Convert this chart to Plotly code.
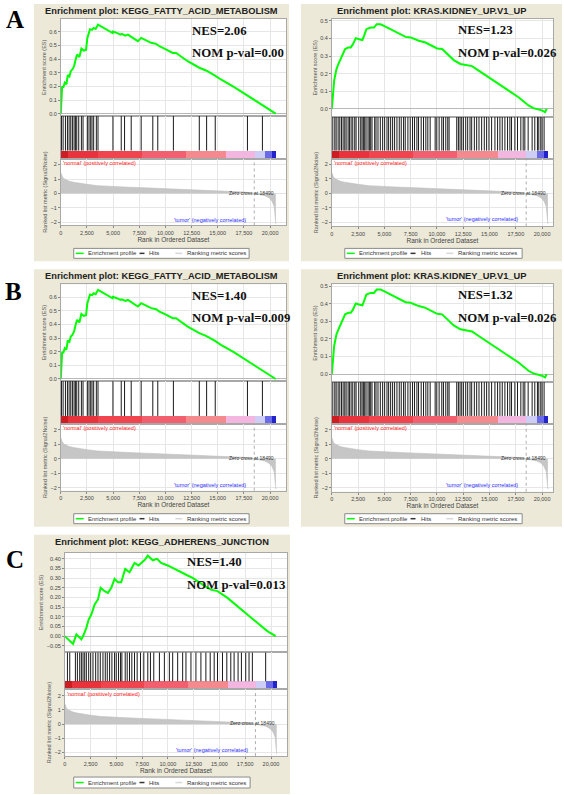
import plotly.graph_objects as go
import numpy as np

W, H = 564, 795

# ---------------- data ----------------
TITLES = [
    "Enrichment plot: KEGG_FATTY_ACID_METABOLISM",
    "Enrichment plot: KRAS.KIDNEY_UP.V1_UP",
    "Enrichment plot: KEGG_FATTY_ACID_METABOLISM",
    "Enrichment plot: KRAS.KIDNEY_UP.V1_UP",
    "Enrichment plot: KEGG_ADHERENS_JUNCTION",
]
NES = ["2.06", "1.23", "1.40", "1.32", "1.40"]
NOM_PVAL = ["0.00", "0.026", "0.009", "0.026", "0.013"]
LETTERS = ["A", "B", "C"]

X_TICKS = [0, 2500, 5000, 7500, 10000, 12500, 15000, 17500, 20000]
RANK_TICKS = [-2, -1, 0, 1, 2]
ES_TICKS_FATTY = [0.0, 0.1, 0.2, 0.3, 0.4, 0.5, 0.6]
ES_TICKS_KRAS = [0.0, 0.1, 0.2, 0.3, 0.4, 0.5]
ES_TICKS_ADH = [-0.05, 0.0, 0.05, 0.10, 0.15, 0.20, 0.25, 0.30, 0.35, 0.40]

FATTY_RANK = [0, 64, 127, 254, 381, 540, 667, 826, 953, 1111, 1270, 1397, 1556, 1778,
              1969, 2191, 2413, 2540, 2667, 2794, 2985, 3143, 3334, 3556, 4950, 4985,
              5350, 5715, 5840, 6160, 6414, 6795, 7366, 7684, 8160, 8636, 9112, 9430,
              9906, 10700, 11017, 12129, 13240, 13875, 14669, 15304, 16574, 17844,
              19114, 20542]
FATTY_ES = [0.0, 0.166, 0.195, 0.195, 0.227, 0.215, 0.283, 0.273, 0.312, 0.324, 0.349,
            0.39, 0.434, 0.415, 0.478, 0.463, 0.468, 0.556, 0.6, 0.62, 0.615, 0.629,
            0.622, 0.654, 0.592, 0.603, 0.593, 0.58, 0.585, 0.573, 0.58, 0.561, 0.532,
            0.556, 0.537, 0.52, 0.512, 0.495, 0.478, 0.446, 0.446, 0.385, 0.337, 0.317,
            0.283, 0.251, 0.195, 0.134, 0.068, 0.0]
FATTY_HITS = [63, 222, 444, 635, 794, 952, 1111, 1270, 1397, 1524, 1714, 1968, 2127,
              2540, 2698, 2857, 2984, 3143, 3397, 3556, 4984, 5778, 6095, 6730, 7683,
              8794, 9270, 10762, 13238, 13937, 14762, 17841, 19270]

KRAS_RANK = [0, 63, 126, 221, 316, 442, 632, 853, 1011, 1264, 1580, 1801, 2022, 2275,
             2591, 2907, 3065, 3286, 3697, 4013, 4266, 4645, 4961, 5751, 6383, 7015,
             7489, 8279, 8911, 9543, 10017, 10491, 10965, 11597, 12229, 12861, 13335,
             13967, 14915, 15863, 16811, 17759, 18707, 19181, 19971, 20287, 20445]
KRAS_ES = [0.0, 0.066, 0.113, 0.16, 0.189, 0.226, 0.255, 0.283, 0.311, 0.34, 0.349,
           0.349, 0.368, 0.402, 0.396, 0.391, 0.415, 0.453, 0.462, 0.462, 0.481, 0.481,
           0.472, 0.447, 0.425, 0.409, 0.406, 0.387, 0.377, 0.358, 0.343, 0.34, 0.311,
           0.277, 0.255, 0.249, 0.243, 0.217, 0.179, 0.142, 0.104, 0.066, 0.019, 0.004,
           -0.009, -0.019, 0.0]
KRAS_HITS = [95, 284, 411, 600, 758, 916, 1074, 1232, 1359, 1548, 1675, 1833, 1991,
             2180, 2307, 2560, 2749, 2876, 3002, 3128, 3255, 3444, 3571, 3697, 3824,
             4076, 4203, 4392, 4614, 4835, 5024, 5246, 5404, 5593, 5783, 5972, 6194,
             6415, 6604, 6826, 6984, 7236, 7458, 7679, 7868, 8090, 8248, 8500, 8722,
             8943, 9132, 9354, 9828, 9986, 10207, 10460, 10618, 10839, 11028, 11155,
             11882, 12040, 12198, 12356, 12514, 12735, 12924, 13146, 13304, 13556,
             13778, 14000, 14252, 14504, 14726, 14947, 15200, 15516, 15768, 15990,
             16211, 16464, 16716, 16938, 17096, 17412, 17664, 17980, 18202, 18360,
             18676, 19055, 19308, 19560, 19687, 19876, 20003, 20192]

ADH_RANK = [0, 483, 805, 1127, 1610, 1803, 2093, 2318, 2576, 2898, 3220, 3478, 3864,
            4186, 4508, 4830, 5152, 5474, 5860, 6279, 6762, 7148, 7567, 7792, 8050,
            8533, 8952, 9338, 9982, 10626, 11270, 11914, 12397, 12880, 13524, 14168,
            14812, 15778, 16744, 17710, 18676, 19642, 20447]
ADH_ES = [0.0, -0.026, -0.04, 0.009, -0.017, 0.003, 0.043, 0.086, 0.112, 0.164, 0.19,
          0.25, 0.233, 0.224, 0.25, 0.297, 0.279, 0.279, 0.348, 0.331, 0.379, 0.366,
          0.388, 0.397, 0.417, 0.393, 0.4, 0.379, 0.366, 0.348, 0.328, 0.314, 0.302,
          0.284, 0.262, 0.241, 0.233, 0.198, 0.155, 0.112, 0.069, 0.026, 0.0]
ADH_HITS = [258, 483, 1030, 1224, 1449, 1610, 1771, 1932, 2093, 2318, 2512, 2737, 2995,
            3220, 3445, 3703, 3928, 4122, 4347, 4572, 4830, 4991, 5216, 5410, 5538,
            5860, 6054, 6279, 6504, 6762, 7020, 7342, 7664, 8050, 8308, 8630, 9177,
            9660, 10143, 10465, 10948, 11431, 11753, 12236, 12719, 13202, 13685, 14104,
            14490, 14812, 15295, 15714, 16100, 16422, 16808, 17130, 17549, 17871, 18193,
            19481]

METRIC_RANK = [0, 50, 150, 300, 500, 800, 1200, 1800, 2500, 3500, 5000, 6500, 8000,
               10000, 12000, 14000, 16000, 17500, 18490, 19000, 19500, 19900, 20200,
               20400, 20500, 20550]
METRIC_VALUE = [1.45, 1.3, 1.15, 1.02, 0.93, 0.85, 0.78, 0.7, 0.63, 0.54, 0.47, 0.43,
                0.39, 0.33, 0.28, 0.22, 0.17, 0.1, 0.0, -0.05, -0.15, -0.3, -0.55,
                -0.9, -1.5, -2.1]
ZERO_CROSS = 18490

BAND_EDGES = [0, 700, 3500, 7700, 11900, 15800, 18500, 19500, 20200, 20520]
BAND_COLORS = ["#cc1e22", "#e9333c", "#f0444e", "#f26070", "#f48a8e", "#f2b6e0",
               "#cdcdf6", "#6a6ae8", "#2323cc"]

SERIES = [
    (FATTY_RANK, FATTY_ES, FATTY_HITS, ES_TICKS_FATTY, ".1f"),
    (KRAS_RANK, KRAS_ES, KRAS_HITS, ES_TICKS_KRAS, ".1f"),
    (FATTY_RANK, FATTY_ES, FATTY_HITS, ES_TICKS_FATTY, ".1f"),
    (KRAS_RANK, KRAS_ES, KRAS_HITS, ES_TICKS_KRAS, ".1f"),
    (ADH_RANK, ADH_ES, ADH_HITS, ES_TICKS_ADH, ".2f"),
]

# ---------------- layout geometry (pixels) ----------------
def geom_left(dy):
    return dict(box=(32, 288, 3 + dy, 261 + dy), px=(59, 285), es=(18 + dy, 115 + dy),
                hit=(115 + dy, 150 + dy, 158 + dy), rank=(158 + dy, 225 + dy),
                xmax=21524, es_range=[-0.015, 0.695], rank_range=[-2.21, 2.41],
                title_y=10 + dy, nes=(189, 30 + dy), nom=(189, 52 + dy),
                legend=(72, 248, 248 + dy, 258 + dy))


def geom_right(dy):
    return dict(box=(300, 562, 3 + dy, 261 + dy), px=(331, 553), es=(18 + dy, 116 + dy),
                hit=(116 + dy, 150 + dy, 158 + dy), rank=(158 + dy, 226 + dy),
                xmax=21043, es_range=[-0.045, 0.511], rank_range=[-2.28, 2.41],
                title_y=10 + dy, nes=(456, 29 + dy), nom=(456, 52 + dy),
                legend=(344, 522, 248 + dy, 258 + dy))


GEOMS = [geom_left(0), geom_right(0), geom_left(266), geom_right(266),
         dict(box=(32, 289, 535, 795), px=(63, 286), es=(553, 653), hit=(653, 682, 690),
              rank=(690, 757), xmax=21550, es_range=[-0.084, 0.4326],
              rank_range=[-2.25, 2.46], title_y=542, nes=(184, 562), nom=(184, 585),
              legend=(72, 249, 778, 789))]
LETTER_POS = [(13, 19), (12, 291), (13, 560)]


def fx(x):
    return x / W


def fy(y):
    return 1 - y / H


def names(n):
    s = "" if n == 1 else str(n)
    return "xaxis" + s, "yaxis" + s, "x" + s, "y" + s


SANS = "Liberation Sans"
SERIF = "Liberation Serif"
GRID = "#e6e6e6"
LINEC = "#a8a8a8"
TICKFONT = dict(family=SANS, size=5.5, color="#444")

fig = go.Figure()
layout = dict(width=W, height=H, margin=dict(l=0, r=0, t=0, b=0),
              paper_bgcolor="white", plot_bgcolor="white", showlegend=False,
              bargap=0)
shapes = []
annotations = []

for p, (g, (rk, es, hits, es_ticks, es_fmt)) in enumerate(zip(GEOMS, SERIES)):
    n_es, n_hit, n_rk = 3 * p + 1, 3 * p + 2, 3 * p + 3
    xa_es, ya_es, xr_es, yr_es = names(n_es)
    xa_h, ya_h, xr_h, yr_h = names(n_hit)
    xa_r, ya_r, xr_r, yr_r = names(n_rk)
    xd = [fx(g["px"][0]), fx(g["px"][1])]
    xmax = g["xmax"]

    # background panel + white plotting region
    bx0, bx1, by0, by1 = g["box"]
    shapes.append(dict(type="rect", xref="paper", yref="paper", x0=fx(bx0), x1=fx(bx1),
                       y0=fy(by1), y1=fy(by0), fillcolor="#ece9d8", line=dict(width=0),
                       layer="below"))
    shapes.append(dict(type="rect", xref="paper", yref="paper", x0=xd[0], x1=xd[1],
                       y0=fy(g["rank"][1]), y1=fy(g["es"][0]), fillcolor="white",
                       line=dict(width=0), layer="below"))

    # enrichment score
    fig.add_trace(go.Scatter(x=rk, y=es, mode="lines", line=dict(color="#00ff00", width=2),
                             xaxis=xr_es, yaxis=yr_es, hoverinfo="skip"))
    layout[xa_es] = dict(domain=xd, range=[0, xmax], anchor=yr_es, showticklabels=False,
                         ticks="", tickvals=X_TICKS, showgrid=True, gridcolor=GRID,
                         gridwidth=0.6, zeroline=False, showline=True, mirror=True,
                         linecolor=LINEC, linewidth=0.8)
    layout[ya_es] = dict(domain=[fy(g["es"][1]), fy(g["es"][0])], range=g["es_range"],
                         anchor=xr_es, tickvals=es_ticks, tickformat=es_fmt, tickfont=TICKFONT,
                         ticks="outside", ticklen=2, tickcolor="#888", showgrid=True,
                         gridcolor=GRID, gridwidth=0.6, zeroline=True, zerolinecolor="#b8b8b8",
                         zerolinewidth=1, showline=True, mirror=True, linecolor=LINEC,
                         linewidth=0.8,
                         title=dict(text="Enrichment score (ES)", standoff=2,
                                    font=dict(family=SANS, size=5.5, color="#555")))

    # hits + colour bar
    htop, hbot, bbot = g["hit"]
    bar_h = (bbot - hbot) / (hbot - htop)
    hx, hy = [], []
    for h in hits:
        hx += [h, h, None]
        hy += [0, 1, None]
    fig.add_trace(go.Scatter(x=hx, y=hy, mode="lines", line=dict(color="#1a1a1a", width=1),
                             xaxis=xr_h, yaxis=yr_h, hoverinfo="skip"))
    edges = np.array(BAND_EDGES, dtype=float)
    centers = (edges[:-1] + edges[1:]) / 2
    widths = np.diff(edges)
    fig.add_trace(go.Bar(x=centers, y=[bar_h] * len(centers), base=-bar_h, width=widths,
                         marker=dict(color=BAND_COLORS, line=dict(width=0)),
                         xaxis=xr_h, yaxis=yr_h, hoverinfo="skip"))
    layout[xa_h] = dict(domain=xd, range=[0, xmax], anchor=yr_h, showticklabels=False,
                        ticks="", tickvals=X_TICKS, showgrid=True, gridcolor=GRID,
                        gridwidth=0.6, zeroline=False, showline=True, mirror=True,
                        linecolor=LINEC, linewidth=0.8)
    layout[ya_h] = dict(domain=[fy(bbot), fy(htop)], range=[-bar_h, 1], anchor=xr_h,
                        showticklabels=False, ticks="", showgrid=False, zeroline=False,
                        showline=True, mirror=True, linecolor=LINEC, linewidth=0.8)

    # ranked list metric
    fig.add_trace(go.Scatter(x=METRIC_RANK, y=METRIC_VALUE, mode="lines", fill="tozeroy",
                             fillcolor="#c6c6c6", line=dict(color="#bdbdbd", width=0.6),
                             xaxis=xr_r, yaxis=yr_r, hoverinfo="skip"))
    layout[xa_r] = dict(domain=xd, range=[0, xmax], anchor=yr_r, tickvals=X_TICKS,
                        tickformat=",", tickfont=TICKFONT, ticks="outside", ticklen=2,
                        tickcolor="#888", showgrid=True, gridcolor=GRID, gridwidth=0.6,
                        zeroline=False, showline=True, mirror=True, linecolor=LINEC,
                        linewidth=0.8,
                        title=dict(text="Rank in Ordered Dataset", standoff=2,
                                   font=dict(family=SANS, size=6.5, color="#444")))
    layout[ya_r] = dict(domain=[fy(g["rank"][1]), fy(g["rank"][0])], range=g["rank_range"],
                        anchor=xr_r, tickvals=RANK_TICKS, tickfont=TICKFONT, ticks="outside",
                        ticklen=2, tickcolor="#888", showgrid=True, gridcolor=GRID,
                        gridwidth=0.6, zeroline=False, showline=True, mirror=True,
                        linecolor=LINEC, linewidth=0.8,
                        title=dict(text="Ranked list metric (Signal2Noise)", standoff=2,
                                   font=dict(family=SANS, size=5.5, color="#555")))
    shapes.append(dict(type="line", xref=xr_r, yref=yr_r + " domain", x0=ZERO_CROSS,
                       x1=ZERO_CROSS, y0=0, y1=1, line=dict(color="#999", width=0.8,
                                                            dash="dot")))
    annotations += [
        dict(xref=xr_r, yref=yr_r, x=0, y=2.12, text="'normal' (positively correlated)",
             showarrow=False, xanchor="left", yanchor="middle",
             font=dict(family=SANS, size=5.5, color="#ff2020")),
        dict(xref=xr_r, yref=yr_r, x=14300, y=-1.8, text="'tumor' (negatively correlated)",
             showarrow=False, xanchor="center", yanchor="middle",
             font=dict(family=SANS, size=5.5, color="#2a2aff")),
        dict(xref=xr_r, yref=yr_r, x=20560, y=0.05, text="Zero cross at %d" % ZERO_CROSS,
             showarrow=False, xanchor="right", yanchor="middle",
             font=dict(family=SANS, size=5, color="#333")),
    ]

    # title and statistics
    annotations += [
        dict(xref="paper", yref="paper", x=fx((bx0 + bx1) / 2), y=fy(g["title_y"]),
             text="<b>%s</b>" % TITLES[p], showarrow=False, xanchor="center",
             yanchor="middle", font=dict(family=SANS, size=9.3, color="#222")),
        dict(xref="paper", yref="paper", x=fx(g["nes"][0]), y=fy(g["nes"][1]),
             text="<b>NES=%s</b>" % NES[p], showarrow=False, xanchor="left",
             yanchor="middle", font=dict(family=SERIF, size=12.8, color="#111")),
        dict(xref="paper", yref="paper", x=fx(g["nom"][0]), y=fy(g["nom"][1]),
             text="<b>NOM p-val=%s</b>" % NOM_PVAL[p], showarrow=False, xanchor="left",
             yanchor="middle", font=dict(family=SERIF, size=12.8, color="#111")),
    ]

    # legend
    L, R, T, B = g["legend"]
    ym = fy((T + B) / 2)
    shapes.append(dict(type="rect", xref="paper", yref="paper", x0=fx(L), x1=fx(R),
                       y0=fy(B), y1=fy(T), fillcolor="white",
                       line=dict(color="#8a8a8a", width=1)))
    for (a, b, col, lab, tx) in [(2, 10, "#00ff00", "Enrichment profile", 12),
                                 (66, 71, "#333333", "Hits", 74),
                                 (102, 109, "#d8d8d8", "Ranking metric scores", 112)]:
        shapes.append(dict(type="line", xref="paper", yref="paper", x0=fx(L + a),
                           x1=fx(L + b), y0=ym, y1=ym, line=dict(color=col, width=1.5)))
        annotations.append(dict(xref="paper", yref="paper", x=fx(L + tx), y=ym, text=lab,
                                showarrow=False, xanchor="left", yanchor="middle",
                                font=dict(family=SANS, size=6, color="#333")))

for letter, (lx, ly) in zip(LETTERS, LETTER_POS):
    annotations.append(dict(xref="paper", yref="paper", x=fx(lx), y=fy(ly),
                            text="<b>%s</b>" % letter, showarrow=False, xanchor="center",
                            yanchor="middle", font=dict(family=SERIF, size=25,
                                                        color="black")))

layout["shapes"] = shapes
layout["annotations"] = annotations
fig.update_layout(**layout)
fig.write_html("out.html",
               config={"displayModeBar": False},
               post_script="document.body.style.margin='0px';"
                           "document.body.style.overflow='hidden';")
